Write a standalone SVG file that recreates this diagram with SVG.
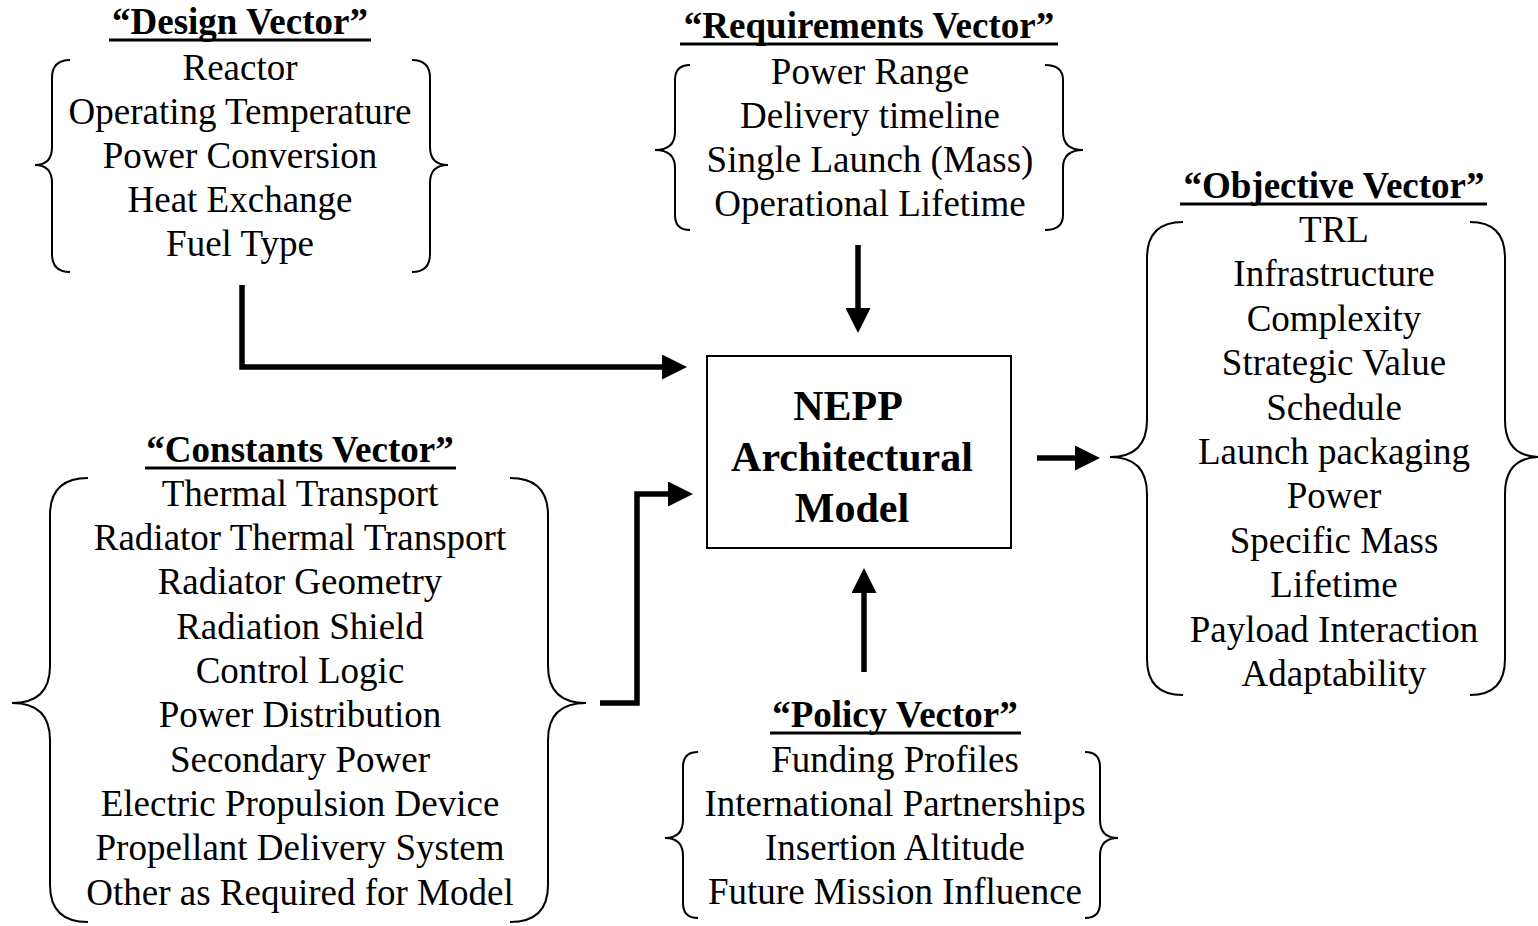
<svg xmlns="http://www.w3.org/2000/svg" width="1538" height="926" viewBox="0 0 1538 926">
<style>
text{font-family:"Liberation Serif","Times New Roman",serif;fill:#000;text-anchor:middle}
.t{font-size:37px;font-weight:bold}
.i{font-size:37px}
.m{font-size:42px;font-weight:bold}
.u{stroke:#000;stroke-width:3}
.b{fill:none;stroke:#000;stroke-width:2}
.c{fill:none;stroke:#000;stroke-width:5.5;stroke-linejoin:miter;marker-end:url(#ah)}
</style>
<defs>
<marker id="ah" viewBox="0 0 25 25" refX="0" refY="12.5" markerWidth="25" markerHeight="25" markerUnits="userSpaceOnUse" orient="auto">
<path d="M0,0 L25,12.5 L0,25 z" fill="#000"/>
</marker>
</defs>
<rect width="1538" height="926" fill="#fff"/>

<g id="design">
<text class="t" x="240" y="34">“Design Vector”</text>
<line class="u" x1="109" y1="40" x2="371" y2="40"/>
<path class="b" d="M70,60 Q52,60 52,78 L52,147 Q52,165 35,165 Q52,165 52,183 L52,254 Q52,272 70,272"/>
<path class="b" d="M412,60 Q430,60 430,78 L430,147 Q430,165 448,165 Q430,165 430,183 L430,254 Q430,272 412,272"/>
<text class="i" x="240" y="80">Reactor</text>
<text class="i" x="240" y="124">Operating Temperature</text>
<text class="i" x="240" y="168">Power Conversion</text>
<text class="i" x="240" y="212">Heat Exchange</text>
<text class="i" x="240" y="256">Fuel Type</text>
</g>

<g id="requirements">
<text class="t" x="869" y="38">“Requirements Vector”</text>
<line class="u" x1="680" y1="44" x2="1058" y2="44"/>
<path class="b" d="M690,65 Q675,65 675,80 L675,132 Q675,150 655,150 Q675,150 675,168 L675,215 Q675,230 690,230"/>
<path class="b" d="M1045,65 Q1063,65 1063,80 L1063,132 Q1063,150 1083,150 Q1063,150 1063,168 L1063,215 Q1063,230 1045,230"/>
<text class="i" x="870" y="84">Power Range</text>
<text class="i" x="870" y="128">Delivery timeline</text>
<text class="i" x="870" y="172">Single Launch (Mass)</text>
<text class="i" x="870" y="216">Operational Lifetime</text>
</g>

<g id="objective">
<text class="t" x="1334" y="198">“Objective Vector”</text>
<line class="u" x1="1180" y1="204" x2="1487" y2="204"/>
<path class="b" d="M1183,222 Q1147,222 1147,258 L1147,420 Q1147,457 1110,457 Q1147,457 1147,494 L1147,659 Q1147,695 1183,695"/>
<path class="b" d="M1470,222 Q1505,222 1505,258 L1505,420 Q1505,457 1540,457 Q1505,457 1505,494 L1505,659 Q1505,695 1470,695"/>
<text class="i" x="1334" y="242">TRL</text>
<text class="i" x="1334" y="286">Infrastructure</text>
<text class="i" x="1334" y="331">Complexity</text>
<text class="i" x="1334" y="375">Strategic Value</text>
<text class="i" x="1334" y="420">Schedule</text>
<text class="i" x="1334" y="464">Launch packaging</text>
<text class="i" x="1334" y="508">Power</text>
<text class="i" x="1334" y="553">Specific Mass</text>
<text class="i" x="1334" y="597">Lifetime</text>
<text class="i" x="1334" y="642">Payload Interaction</text>
<text class="i" x="1334" y="686">Adaptability</text>
</g>

<g id="constants">
<text class="t" x="300" y="462">“Constants Vector”</text>
<line class="u" x1="145" y1="468" x2="456" y2="468"/>
<path class="b" d="M88,478 Q50,478 50,515 L50,666 Q50,703 12,703 Q50,703 50,740 L50,885 Q50,922 88,922"/>
<path class="b" d="M510,478 Q548,478 548,515 L548,666 Q548,703 586,703 Q548,703 548,740 L548,885 Q548,922 510,922"/>
<text class="i" x="300" y="506">Thermal Transport</text>
<text class="i" x="300" y="550">Radiator Thermal Transport</text>
<text class="i" x="300" y="594">Radiator Geometry</text>
<text class="i" x="300" y="639">Radiation Shield</text>
<text class="i" x="300" y="683">Control Logic</text>
<text class="i" x="300" y="727">Power Distribution</text>
<text class="i" x="300" y="772">Secondary Power</text>
<text class="i" x="300" y="816">Electric Propulsion Device</text>
<text class="i" x="300" y="860">Propellant Delivery System</text>
<text class="i" x="300" y="905">Other as Required for Model</text>
</g>

<g id="policy">
<text class="t" x="895" y="727">“Policy Vector”</text>
<line class="u" x1="770" y1="733" x2="1021" y2="733"/>
<path class="b" d="M698,752 Q683,752 683,767 L683,820 Q683,838 665,838 Q683,838 683,856 L683,903 Q683,918 698,918"/>
<path class="b" d="M1085,752 Q1100,752 1100,767 L1100,820 Q1100,838 1118,838 Q1100,838 1100,856 L1100,903 Q1100,918 1085,918"/>
<text class="i" x="895" y="772">Funding Profiles</text>
<text class="i" x="895" y="816">International Partnerships</text>
<text class="i" x="895" y="860">Insertion Altitude</text>
<text class="i" x="895" y="904">Future Mission Influence</text>
</g>

<g id="nepp">
<rect x="707" y="356" width="304" height="192" fill="none" stroke="#000" stroke-width="2"/>
<text class="m" x="848" y="420">NEPP</text>
<text class="m" x="852" y="471">Architectural</text>
<text class="m" x="852" y="522">Model</text>
</g>

<g id="connectors">
<path class="c" d="M242,285 L242,367 L662,367"/>
<path class="c" d="M858,245 L858,308"/>
<path class="c" d="M600,703 L637,703 L637,494 L668,494"/>
<path class="c" d="M864,672 L864,593"/>
<path class="c" d="M1037,458 L1075,458"/>
</g>
</svg>
